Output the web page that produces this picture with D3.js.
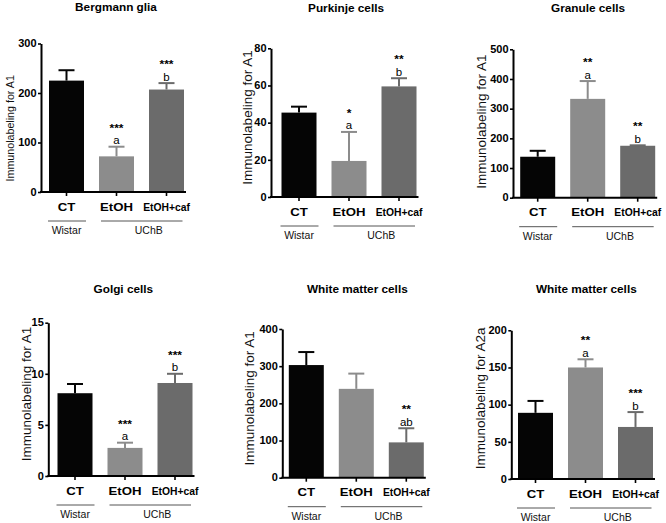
<!DOCTYPE html>
<html>
<head>
<meta charset="utf-8">
<script src="https://cdn.jsdelivr.net/npm/d3@7"></script>
<style>
  html, body { margin: 0; padding: 0; background: #fff; }
  svg { display: block; font-family: "Liberation Sans", Arial, sans-serif; }
</style>
</head>
<body>
<svg id="chart" width="666" height="523"></svg>
<script>
// ---------- data ----------
const categories = ["CT", "EtOH", "EtOH+caf"];
const groupNames = ["Wistar", "UChB"];
const panelTitles = ["Bergmann glia", "Purkinje cells", "Granule cells", "Golgi cells", "White matter cells", "White matter cells"];
const yLabels = ["Immunolabeling for A1", "Immunolabeling for A1", "Immunolabeling for A1",
                 "Immunolabeling for A1", "Immunolabeling for A1", "Immunolabeling for A2a"];
const yMax = [300, 80, 500, 15, 400, 200];
const yTickStep = [100, 20, 100, 5, 100, 50];
const means = [
  [225, 72, 207],
  [45.4, 19.4, 59.5],
  [138, 333, 175],
  [8.1, 2.75, 9.1],
  [303, 239, 95],
  [89, 150, 70]
];
const sems = [
  [21, 19.5, 13],
  [3.2, 15.6, 4.4],
  [20, 60, 1.5],
  [0.9, 0.51, 0.9],
  [35, 41, 38],
  [16, 11, 20]
];
const stars = [
  ["", "***", "***"],
  ["", "*", "**"],
  ["", "**", "**"],
  ["", "***", "***"],
  ["", "", "**"],
  ["", "**", "***"]
];
const letters = [
  ["", "a", "b"],
  ["", "a", "b"],
  ["", "a", "b"],
  ["", "a", "b"],
  ["", "", "ab"],
  ["", "a", "b"]
];

// ---------- layout & style ----------
const barColors = ["#050505", "#8c8c8c", "#6b6b6b"];
const layout = [
  {ax: 41,    top: 43.5,  bottom: 192,   c0: 25.5, lx: 10,    ly: 128.3, ls: 10.7, ty: 11},
  {ax: 271,   top: 48.3,  bottom: 197,   c0: 28,   lx: 247,   ly: 117.5, ls: 13.5, ty: 12.3},
  {ax: 513,   top: 49.3,  bottom: 197.7, c0: 24.7, lx: 481.3, ly: 121.7, ls: 13.5, ty: 12.3},
  {ax: 48.3,  top: 322.7, bottom: 476,   c0: 26.7, lx: 26.7,  ly: 394,   ls: 13.5, ty: 292.7},
  {ax: 282.3, top: 329,   bottom: 477.7, c0: 24,   lx: 249.3, ly: 398.3, ls: 13.5, ty: 293},
  {ax: 511.3, top: 330.3, bottom: 479,   c0: 24.2, lx: 480.7, ly: 398.3, ls: 13.5, ty: 293}
];

const svg = d3.select("#chart");
svg.append("rect").attr("width", 666).attr("height", 523).attr("fill", "#fff");

// place a text with a horizontal stretch around its anchor point
function stretchText(g, x, y, txt, sx) {
  return g.append("text")
    .attr("transform", `translate(${x},${y}) scale(${sx},1)`)
    .text(txt);
}

layout.forEach((L, p) => {
  const g = svg.append("g");
  const y = d3.scaleLinear().domain([0, yMax[p]]).range([L.bottom, L.top]);
  const x = d3.scaleBand().domain(categories)
    .range([L.ax + L.c0 - 25, L.ax + L.c0 + 125])
    .paddingInner(0.3).paddingOuter(0.15);

  // bars
  g.selectAll("rect.bar").data(categories).join("rect")
    .attr("class", "bar")
    .attr("x", d => x(d))
    .attr("width", x.bandwidth())
    .attr("y", (d, i) => y(means[p][i]))
    .attr("height", (d, i) => L.bottom - y(means[p][i]))
    .attr("fill", (d, i) => barColors[i]);

  // error bars (upper)
  categories.forEach((c, i) => {
    const cx = x(c) + x.bandwidth() / 2;
    const yTop = y(means[p][i] + sems[p][i]);
    g.append("line").attr("x1", cx).attr("x2", cx)
      .attr("y1", y(means[p][i])).attr("y2", yTop)
      .attr("stroke", barColors[i]).attr("stroke-width", 2);
    g.append("line").attr("x1", cx - 8).attr("x2", cx + 8)
      .attr("y1", yTop).attr("y2", yTop)
      .attr("stroke", barColors[i]).attr("stroke-width", 2);
    // annotations
    const lb = yTop - 2.5;
    if (letters[p][i]) {
      g.append("text").attr("x", cx).attr("y", lb).text(letters[p][i])
        .attr("text-anchor", "middle").attr("font-size", 11.5).attr("fill", "#000");
    }
    if (stars[p][i]) {
      stretchText(g, cx, lb - 12.5, stars[p][i], 1.2)
        .attr("text-anchor", "middle").attr("font-size", 10).attr("font-weight", "bold").attr("fill", "#000");
    }
  });

  // y axis
  const yAxis = d3.axisLeft(y)
    .tickValues(d3.range(0, yMax[p] + 1e-9, yTickStep[p]))
    .tickSize(3).tickSizeOuter(0).tickPadding(1.5);
  const ya = g.append("g").attr("transform", `translate(${L.ax},0)`).call(yAxis);
  ya.select(".domain").attr("stroke", "#000").attr("stroke-width", 2);
  ya.selectAll(".tick line").attr("stroke", "#000").attr("stroke-width", 1.6);
  ya.selectAll(".tick text")
    .attr("font-size", 10).attr("font-weight", "bold").attr("fill", "#000")
    .attr("font-family", "Liberation Sans, Arial, sans-serif")
    .each(function () {
      const t = d3.select(this);
      const tx = +t.attr("x");
      t.attr("x", 0).attr("transform", `translate(${tx},0) scale(1.1,1)`);
    });

  // x axis
  const xEnd = x(categories[2]) + x.bandwidth() + 2;
  g.append("line").attr("x1", L.ax - 1).attr("x2", xEnd)
    .attr("y1", L.bottom).attr("y2", L.bottom)
    .attr("stroke", "#000").attr("stroke-width", 2);
  const xa = g.append("g").attr("transform", `translate(0,${L.bottom})`)
    .call(d3.axisBottom(x).tickSize(4).tickSizeOuter(0).tickFormat(""));
  xa.select(".domain").remove();
  xa.selectAll(".tick line").attr("stroke", "#000").attr("stroke-width", 1.6);

  // category labels (long label condensed to fit under its bar)
  categories.forEach((c, i) => {
    const cx = x(c) + x.bandwidth() / 2;
    const sx = c.length > 5 ? 0.94 : 1.2;
    stretchText(g, cx, L.bottom + 18.5, c, sx)
      .attr("text-anchor", "middle").attr("font-size", 11).attr("font-weight", "bold").attr("fill", "#000");
  });

  // group lines & labels
  const gy = L.bottom + 29;
  const w0 = x(categories[0]) - 1, w1 = x(categories[0]) + x.bandwidth() + 2;
  const u0 = x(categories[1]) + 2, u1 = x(categories[2]) + x.bandwidth() - 1.5;
  g.append("line").attr("x1", w0).attr("x2", w1).attr("y1", gy).attr("y2", gy)
    .attr("stroke", "#555").attr("stroke-width", 1);
  g.append("line").attr("x1", u0).attr("x2", u1).attr("y1", gy).attr("y2", gy)
    .attr("stroke", "#555").attr("stroke-width", 1);
  g.append("text").attr("x", x(categories[0]) + x.bandwidth() / 2).attr("y", L.bottom + 42.3)
    .attr("text-anchor", "middle").attr("font-size", 10.5).attr("fill", "#111").text(groupNames[0]);
  g.append("text").attr("x", (u0 + u1) / 2 + 7).attr("y", L.bottom + 42.3)
    .attr("text-anchor", "middle").attr("font-size", 10.5).attr("fill", "#111").text(groupNames[1]);

  // title
  stretchText(g, L.ax + 75, L.ty, panelTitles[p], 1.18)
    .attr("text-anchor", "middle").attr("font-size", 10).attr("font-weight", "bold").attr("fill", "#000");

  // y label
  g.append("text")
    .attr("transform", `translate(${L.lx},${L.ly}) rotate(-90)`)
    .attr("text-anchor", "middle").attr("dy", "0.35em")
    .attr("font-size", L.ls).attr("fill", "#111")
    .text(yLabels[p]);
});
</script>
</body>
</html>
